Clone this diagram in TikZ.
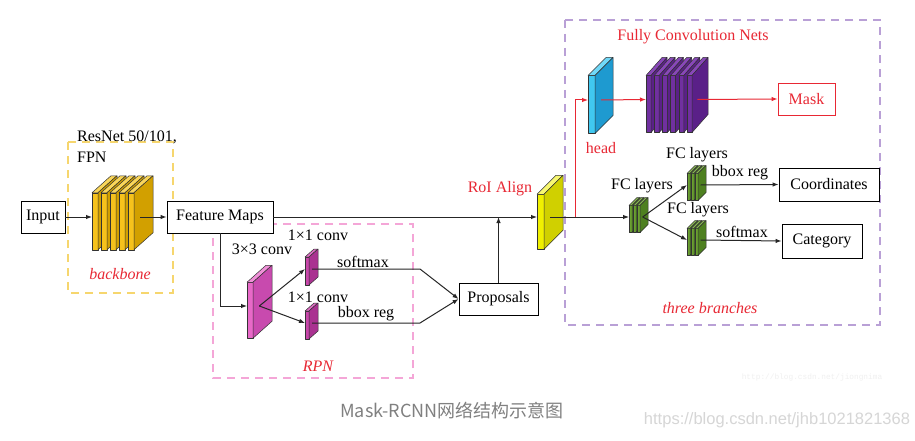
\documentclass[tikz,border=0pt]{standalone}
\usepackage{fontspec}
\setmainfont{Liberation Serif}
\newfontfamily\cjkfont{Noto Sans CJK SC}
\newfontfamily\urlfnt{Liberation Sans}
\newfontfamily\wmfnt{Liberation Mono}
\usetikzlibrary{arrows.meta}
\definecolor{redtxt}{RGB}{232,40,52}
\definecolor{dashY}{RGB}{246,214,110}
\definecolor{dashP}{RGB}{244,166,215}
\definecolor{dashV}{RGB}{185,160,214}
\newcommand\slabstack[9]{%
  \foreach \i in {1,...,#8}{%
    \pgfmathsetmacro\xa{#2+(\i-1)*#9}%
    \pgfmathsetmacro\xb{\xa+#4}%
    \pgfmathsetmacro\yt{#3-#5}%
    \filldraw[slabline, fill=slabF] (\xa,#3) rectangle (\xb,\yt);
    \filldraw[slabline, fill=slabT] (\xa,\yt) -- ++(#6,-#7) -- ++(#4,0) -- (\xb,\yt) -- cycle;
    \filldraw[slabline, fill=slabS] (\xb,#3) -- (\xb,\yt) -- ++(#6,-#7) -- ++(0,#5) -- cycle;
  }%
  \pgfmathsetmacro\xl{#2+(#8-1)*#9+#4+#6/3}%
  \pgfmathsetmacro\yc{#3-#5/2-#7/4}%
  \coordinate (#1) at (\xl,\yc);
  \coordinate (#1-w) at (#2,\yc);
}
\newcommand\slabcolors[3]{\colorlet{slabF}{#1}\colorlet{slabT}{#2}\colorlet{slabS}{#3}}
\begin{document}
\begin{tikzpicture}[x=1pt,y=-1pt,
  slabline/.style={draw=black!80, line width=0.5pt, line join=round},
  txt/.style={font=\fontsize{16}{19}\selectfont, inner sep=0pt},
  redlbl/.style={txt, text=redtxt},
  box/.style={draw=black, line width=0.9pt, font=\fontsize{16}{19}\selectfont, inner sep=0pt, minimum height=32pt},
  conn/.style={draw=black!85, line width=1pt, -{Latex[length=6pt,width=4.5pt]}},
  line/.style={draw=black!85, line width=1pt},
  redconn/.style={draw=redtxt, line width=1pt, -{Latex[length=6pt,width=4.5pt]}},
  dbox/.style={line width=1.8pt, dash pattern=on 8pt off 6pt}]
\useasboundingbox (0,0) rectangle (915,441);
\fill[white] (0,0) rectangle (915,441);

% dashed group frames
\draw[dbox, dashY] (68,142) rectangle (173,293);
\draw[dbox, dashP] (213,224) rectangle (413,378);
\draw[dbox, dashV] (565,20) rectangle (880,325);

% boxes
\node[box, minimum width=44pt] (input) at (43,217) {Input};
\node[box, minimum width=106pt, fill=white] (fm) at (220,217) {Feature Maps};
\node[box, minimum width=79pt] (prop) at (498.5,299) {Proposals};
\node[box, draw=redtxt, text=redtxt, minimum width=57pt] (mask) at (806.5,99) {Mask};
\node[box, minimum width=100pt, minimum height=33pt] (coord) at (829,184.5) {Coordinates};
\node[box, minimum width=80pt, minimum height=34pt] (cat) at (822,241) {Category};

% stacks
\slabcolors{rgb,255:red,246;green,194;blue,28}{rgb,255:red,249;green,214;blue,90}{rgb,255:red,210;green,160;blue,0}
\slabstack{bb}{92}{249.75}{6}{57}{19}{17}{5}{9}
\slabcolors{rgb,255:red,232;green,104;blue,200}{rgb,255:red,240;green,144;blue,216}{rgb,255:red,200;green,74;blue,174}
\slabstack{c3}{247}{338.25}{6}{56}{19}{17}{1}{0}
\slabcolors{rgb,255:red,200;green,70;blue,170}{rgb,255:red,220;green,110;blue,195}{rgb,255:red,170;green,50;blue,145}
\slabstack{c1a}{305}{285}{4}{28}{9}{8}{1}{0}
\slabstack{c1b}{305}{339}{4}{28}{9}{8}{1}{0}
\slabcolors{rgb,255:red,240;green,240;blue,0}{rgb,255:red,248;green,248;blue,112}{rgb,255:red,208;green,208;blue,0}
\slabstack{roi}{537}{249.25}{7}{55}{19}{19}{1}{0}
\slabcolors{rgb,255:red,64;green,200;blue,240}{rgb,255:red,112;green,216;blue,248}{rgb,255:red,30;green,154;blue,208}
\slabstack{head}{588}{133.5}{7}{58}{18}{18}{1}{0}
\slabcolors{rgb,255:red,112;green,48;blue,160}{rgb,255:red,136;green,72;blue,184}{rgb,255:red,90;green,32;blue,136}
\slabstack{pm}{646}{132.5}{5}{57}{16}{18}{6}{8.2}
\slabcolors{rgb,255:red,106;green,160;blue,48}{rgb,255:red,136;green,184;blue,80}{rgb,255:red,78;green,128;blue,32}
\slabstack{fc1}{629}{232.5}{3}{27}{8}{8}{3}{4}
\slabstack{fc2}{687}{200.5}{3}{27}{8}{8}{3}{4}
\slabstack{fc3}{687}{255.5}{3}{27}{8}{8}{3}{4}

% helper coordinates
\coordinate (kx) at (420,0);
\coordinate (rbr) at (575,217);
\coordinate (j1) at (prop.north |- fm.east);

% connectors
\draw[conn] (input.east) -- (bb-w);
\draw[conn] (bb) -- (fm.west);
\draw[conn] (fm.east) -- (roi-w);
\draw[conn] (prop.north) -- (j1);
\draw[conn] (fm.south) |- (c3-w);
\draw[conn] (c3) -- (c1a-w);
\draw[conn] (c3) -- (c1b-w);
\draw[conn] (c1a) -- (c1a -| kx) -- (prop.west);
\draw[conn] (c1b) -- (c1b -| kx) -- (prop.west);
\draw[conn] (roi) -- (fc1-w);
\draw[redconn] (rbr) |- (head-w);
\draw[redconn] (head) -- (pm-w);
\draw[redconn] (pm) -- (mask.west);
\draw[conn] (fc1) -- (fc2-w);
\draw[conn] (fc1) -- (fc3-w);
\draw[conn] (fc2) -- (coord.west);
\draw[conn] (fc3) -- (cat.west);

% labels
\node[txt, anchor=west] (lres) at (77,137) {ResNet 50/101,};
\node[txt, anchor=west] (lfpn) at (77,157) {FPN};
\node[redlbl, font=\fontsize{16}{19}\selectfont\itshape] (lbb) at (120,274) {backbone};
\node[redlbl, font=\fontsize{16}{19}\selectfont\itshape] (lrpn) at (318,366) {RPN};
\node[redlbl] (lroi) at (500,189) {RoI Align};
\node[redlbl] (lhead) at (601,148) {head};
\node[redlbl] (lfcn) at (693,37) {Fully Convolution Nets};
\node[redlbl, font=\fontsize{16}{19}\selectfont\itshape] (ltb) at (710,308) {three branches};
\node[txt] (l33) at (262,249) {3×3 conv};
\node[txt] (l11a) at (318,235) {1×1 conv};
\node[txt] (l11b) at (318,297) {1×1 conv};
\node[txt] (lsm1) at (363,262) {softmax};
\node[txt] (lbr1) at (366,314) {bbox reg};
\node[txt] (lfc1) at (642,186) {FC layers};
\node[txt] (lfc2) at (697,155) {FC layers};
\node[txt] (lfc3) at (698,210) {FC layers};
\node[txt] (lbr2) at (740,173) {bbox reg};
\node[txt] (lsm2) at (742,232) {softmax};

% caption and watermarks
\node[inner sep=0pt, text=black!50, font=\cjkfont\fontsize{18}{21}\selectfont] (cap) at (452,411) {Mask-RCNN网络结构示意图};
\node[inner sep=0pt, text=black!16, font=\urlfnt\fontsize{16.5}{19}\selectfont] (url) at (777,420) {https://blog.csdn.net/jhb1021821368};
\node[inner sep=0pt, text=black!6, font=\wmfnt\fontsize{7.8}{9}\selectfont] (wm) at (812,377) {http://blog.csdn.net/jiongnima};
\end{tikzpicture}
\end{document}
